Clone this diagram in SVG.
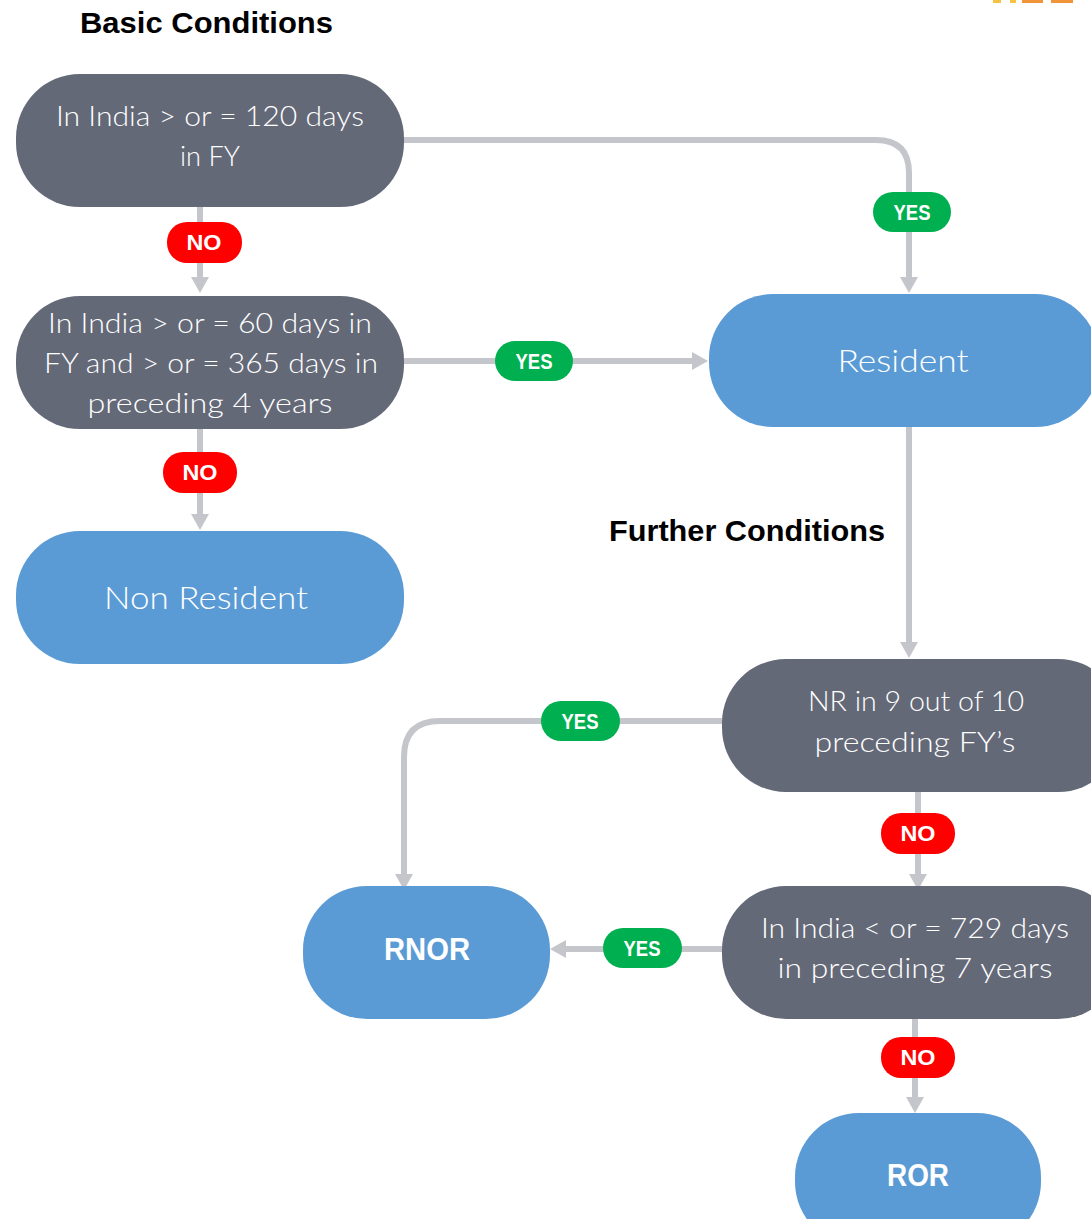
<svg xmlns="http://www.w3.org/2000/svg" width="1091" height="1219" viewBox="0 0 1091 1219">
  <defs>
    <style>
      .title { font-family: "Liberation Sans", Arial, sans-serif; font-weight: bold; font-size: 30px; fill: #000; }
      .dec { fill: #646978; }
      .out { fill: #5B9BD5; }
      .ntext { font-family: Lato, "Liberation Sans", sans-serif; font-weight: 300; font-size: 28px; fill: #fff; text-anchor: middle; }
      .btext { font-family: "Liberation Sans", Arial, sans-serif; font-weight: bold; font-size: 31px; fill: #fff; text-anchor: middle; }
      .conn { fill: none; stroke: #C5C6CB; stroke-width: 6; }
      .yes { fill: #00B050; }
      .no { fill: #FF0000; }
      .badge { font-family: "Liberation Sans", Arial, sans-serif; font-weight: bold; font-size: 22px; fill: #fff; text-anchor: middle; }
    </style>
    <marker id="arr" viewBox="0 0 16 18" refX="5" refY="9" markerWidth="16" markerHeight="18" markerUnits="userSpaceOnUse" orient="auto">
      <path d="M0,0 L16,9 L0,18 z" fill="#C5C6CB"/>
    </marker>
  </defs>
  <rect width="1091" height="1219" fill="#fff"/>

  <g id="logo-fragment">
    <rect x="993" y="0" width="8" height="3" fill="#F5C242"/>
    <rect x="1010" y="0" width="6" height="3" fill="#F5C242"/>
    <rect x="1022" y="0" width="21" height="3" fill="#F0953A"/>
    <rect x="1051" y="0" width="22" height="3" fill="#F0953A"/>
  </g>

  <text class="title" x="80" y="33" textLength="253" lengthAdjust="spacingAndGlyphs">Basic Conditions</text>
  <text class="title" x="609" y="541" textLength="276" lengthAdjust="spacingAndGlyphs">Further Conditions</text>

  <g id="connectors">
    <path class="conn" d="M404,140 H876 Q909,140 909,173 V282" marker-end="url(#arr)"/>
    <path class="conn" d="M200,207 V282" marker-end="url(#arr)"/>
    <path class="conn" d="M404,361 H697" marker-end="url(#arr)"/>
    <path class="conn" d="M200,429 V519" marker-end="url(#arr)"/>
    <path class="conn" d="M909,427 V647" marker-end="url(#arr)"/>
    <path class="conn" d="M722,721 H440 Q404,721 404,757 V879" marker-end="url(#arr)"/>
    <path class="conn" d="M918,792 V879" marker-end="url(#arr)"/>
    <path class="conn" d="M722,949 H561" marker-end="url(#arr)"/>
    <path class="conn" d="M915,1019 V1102" marker-end="url(#arr)"/>
  </g>

  <g id="labels">
    <g id="yes1"><rect class="yes" x="873" y="192" width="78" height="40" rx="20"/><text class="badge" x="912" y="220" textLength="37" lengthAdjust="spacingAndGlyphs">YES</text></g>
    <g id="no1"><rect class="no" x="167" y="222" width="75" height="41" rx="20"/><text class="badge" x="204" y="250" textLength="35" lengthAdjust="spacingAndGlyphs">NO</text></g>
    <g id="yes2"><rect class="yes" x="495" y="341" width="78" height="40" rx="20"/><text class="badge" x="534" y="369" textLength="37" lengthAdjust="spacingAndGlyphs">YES</text></g>
    <g id="no2"><rect class="no" x="163" y="452" width="74" height="41" rx="20"/><text class="badge" x="200" y="480" textLength="35" lengthAdjust="spacingAndGlyphs">NO</text></g>
    <g id="yes3"><rect class="yes" x="541" y="701" width="79" height="40" rx="20"/><text class="badge" x="580" y="729" textLength="37" lengthAdjust="spacingAndGlyphs">YES</text></g>
    <g id="no3"><rect class="no" x="881" y="813" width="74" height="41" rx="20"/><text class="badge" x="918" y="841" textLength="35" lengthAdjust="spacingAndGlyphs">NO</text></g>
    <g id="yes4"><rect class="yes" x="603" y="928" width="79" height="40" rx="20"/><text class="badge" x="642" y="956" textLength="37" lengthAdjust="spacingAndGlyphs">YES</text></g>
    <g id="no4"><rect class="no" x="881" y="1037" width="74" height="41" rx="20"/><text class="badge" x="918" y="1065" textLength="35" lengthAdjust="spacingAndGlyphs">NO</text></g>
  </g>

  <g id="n-120days">
    <rect class="dec" x="16" y="74" width="388" height="133" rx="64"/>
    <text class="ntext" x="210" y="126" textLength="308" lengthAdjust="spacingAndGlyphs">In India &gt; or = 120 days</text>
    <text class="ntext" x="210" y="166" textLength="60" lengthAdjust="spacingAndGlyphs">in FY</text>
  </g>
  <g id="n-60days">
    <rect class="dec" x="16" y="296" width="388" height="133" rx="64"/>
    <text class="ntext" x="210" y="333" textLength="324" lengthAdjust="spacingAndGlyphs">In India &gt; or = 60 days in</text>
    <text class="ntext" x="211" y="373" textLength="334" lengthAdjust="spacingAndGlyphs">FY and &gt; or = 365 days in</text>
    <text class="ntext" x="210" y="413" textLength="245" lengthAdjust="spacingAndGlyphs">preceding 4 years</text>
  </g>
  <g id="n-nonresident">
    <rect class="out" x="16" y="531" width="388" height="133" rx="64"/>
    <text class="ntext" x="206" y="609" style="font-size:32px" textLength="204" lengthAdjust="spacingAndGlyphs">Non Resident</text>
  </g>
  <g id="n-resident">
    <rect class="out" x="709" y="294" width="390" height="133" rx="64"/>
    <text class="ntext" x="903" y="372" style="font-size:32px" textLength="131" lengthAdjust="spacingAndGlyphs">Resident</text>
  </g>
  <g id="n-nr9of10">
    <rect class="dec" x="722" y="659" width="400" height="133" rx="64"/>
    <text class="ntext" x="916" y="711" textLength="216" lengthAdjust="spacingAndGlyphs">NR in 9 out of 10</text>
    <text class="ntext" x="915" y="752" textLength="201" lengthAdjust="spacingAndGlyphs">preceding FY’s</text>
  </g>
  <g id="n-729days">
    <rect class="dec" x="722" y="886" width="400" height="133" rx="64"/>
    <text class="ntext" x="915" y="938" textLength="308" lengthAdjust="spacingAndGlyphs">In India &lt; or = 729 days</text>
    <text class="ntext" x="915" y="978" textLength="275" lengthAdjust="spacingAndGlyphs">in preceding 7 years</text>
  </g>
  <g id="n-rnor">
    <rect class="out" x="303" y="886" width="247" height="133" rx="64"/>
    <text class="btext" x="427" y="960" textLength="86" lengthAdjust="spacingAndGlyphs">RNOR</text>
  </g>
  <g id="n-ror">
    <rect class="out" x="795" y="1113" width="246" height="133" rx="64"/>
    <text class="btext" x="918" y="1186" textLength="62" lengthAdjust="spacingAndGlyphs">ROR</text>
  </g>
</svg>
